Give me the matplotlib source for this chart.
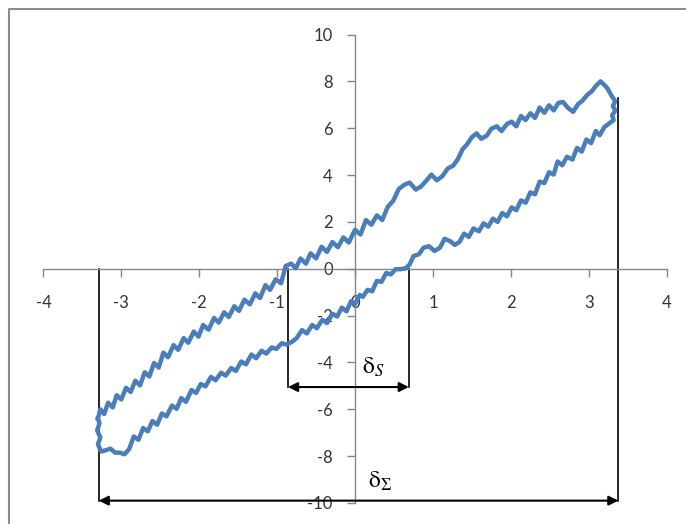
import numpy as np
import matplotlib
matplotlib.use('Agg')
import matplotlib.pyplot as plt
from matplotlib.lines import Line2D

# loop, upper branch (left to right, incl. top-right end)
upper_x = [-3.30, -3.27, -3.22, -3.17, -3.11, -3.06, -3.00, -2.94, -2.88, -2.82,
           -2.76, -2.70, -2.64, -2.58, -2.52, -2.46, -2.40, -2.33, -2.27, -2.20,
           -2.14, -2.07, -2.01, -1.95, -1.88, -1.81, -1.75, -1.68, -1.62, -1.55,
           -1.49, -1.42, -1.35, -1.28, -1.22, -1.15, -1.09, -1.02, -0.95, -0.89,
           -0.82, -0.76, -0.70, -0.63, -0.57, -0.50, -0.43, -0.36, -0.29, -0.22,
           -0.15, -0.08, 0.00, 0.07, 0.14, 0.21, 0.28, 0.35, 0.42, 0.49,
           0.56, 0.63, 0.70, 0.78, 0.85, 0.92, 0.98, 1.05, 1.12, 1.19,
           1.26, 1.32, 1.38, 1.44, 1.50, 1.56, 1.62, 1.69, 1.75, 1.82,
           1.88, 1.95, 2.01, 2.07, 2.13, 2.19, 2.25, 2.31, 2.37, 2.43,
           2.49, 2.55, 2.61, 2.67, 2.73, 2.80, 2.86, 2.92, 2.98, 3.04,
           3.09, 3.15, 3.20, 3.24, 3.29, 3.34, 3.31, 3.34, 3.30, 3.32, 3.26]
upper_y = [-6.40, -6.00, -6.20, -5.72, -5.92, -5.40, -5.58, -5.08, -5.26, -4.78,
           -4.98, -4.42, -4.60, -4.02, -4.22, -3.58, -3.78, -3.26, -3.46, -2.96,
           -3.16, -2.68, -2.90, -2.40, -2.60, -2.10, -2.30, -1.86, -2.06, -1.60,
           -1.80, -1.32, -1.52, -1.05, -1.25, -0.70, -0.90, -0.45, -0.62, 0.12,
           0.22, 0.02, 0.44, 0.22, 0.66, 0.44, 0.94, 0.72, 1.14, 0.92,
           1.34, 1.12, 1.66, 1.46, 2.08, 1.88, 2.28, 2.08, 2.65, 2.90,
           3.40, 3.58, 3.68, 3.38, 3.52, 3.78, 4.02, 3.78, 3.95, 4.28,
           4.40, 4.68, 5.10, 5.32, 5.62, 5.78, 5.55, 5.68, 5.98, 6.08,
           5.88, 6.18, 6.28, 6.08, 6.52, 6.35, 6.64, 6.44, 6.88, 6.66,
           6.98, 6.76, 7.08, 7.12, 6.88, 6.70, 7.02, 7.18, 7.42, 7.58,
           7.80, 8.00, 7.85, 7.70, 7.40, 7.15, 6.95, 6.75, 6.55, 6.35, 6.20]

# loop, lower branch (right to left, back to the start)
lower_x = [3.20, 3.14, 3.09, 3.03, 2.97, 2.91, 2.85, 2.79, 2.72, 2.66,
           2.60, 2.55, 2.49, 2.43, 2.37, 2.31, 2.25, 2.19, 2.13, 2.07,
           2.01, 1.95, 1.89, 1.83, 1.77, 1.71, 1.65, 1.59, 1.52, 1.46,
           1.40, 1.34, 1.28, 1.22, 1.15, 1.09, 1.02, 0.95, 0.88, 0.82,
           0.75, 0.70, 0.65, 0.58, 0.52, 0.46, 0.40, 0.34, 0.28, 0.22,
           0.16, 0.10, 0.06, 0.00, -0.05, -0.11, -0.17, -0.23, -0.29, -0.36,
           -0.42, -0.49, -0.55, -0.62, -0.68, -0.75, -0.81, -0.88, -0.94, -1.01,
           -1.07, -1.14, -1.20, -1.27, -1.33, -1.40, -1.46, -1.53, -1.59, -1.66,
           -1.72, -1.79, -1.85, -1.92, -1.98, -2.04, -2.10, -2.17, -2.23, -2.29,
           -2.35, -2.42, -2.48, -2.54, -2.60, -2.66, -2.72, -2.78, -2.84, -2.90,
           -2.96, -3.02, -3.08, -3.14, -3.20, -3.26, -3.30, -3.27, -3.31, -3.28, -3.30]
lower_y = [6.05, 5.70, 5.88, 5.36, 5.52, 5.00, 5.16, 4.66, 4.78, 4.42,
           4.58, 4.02, 4.12, 3.66, 3.72, 3.18, 3.26, 2.82, 2.92, 2.50,
           2.62, 2.24, 2.38, 2.00, 2.14, 1.80, 1.94, 1.60, 1.72, 1.36,
           1.50, 1.14, 1.02, 1.18, 1.28, 0.90, 0.76, 0.96, 0.90, 0.62,
           0.54, 0.18, 0.02, -0.02, -0.02, -0.24, -0.18, -0.56, -0.52, -0.96,
           -0.90, -1.20, -1.12, -1.50, -1.38, -1.82, -1.66, -2.04, -1.92, -2.32,
           -2.18, -2.54, -2.40, -2.76, -2.62, -2.96, -3.12, -3.24, -3.18, -3.42,
           -3.36, -3.62, -3.50, -3.82, -3.66, -4.08, -3.96, -4.36, -4.24, -4.56,
           -4.44, -4.76, -4.62, -5.02, -4.92, -5.30, -5.18, -5.68, -5.52, -5.98,
           -5.84, -6.30, -6.18, -6.66, -6.50, -6.94, -6.80, -7.30, -7.16, -7.70,
           -7.92, -7.85, -7.85, -7.68, -7.75, -7.80, -7.50, -7.20, -6.90, -6.60, -6.40]

# widths marked under the loop
ds_x = [-0.86, 0.69]
ds_y = -5.05
dsum_x = [-3.29, 3.38]
dsum_y = -9.9
right_top = 7.3

ticks_x = [-4, -3, -2, -1, 0, 1, 2, 3, 4]
ticks_y = [-10, -8, -6, -4, -2, 0, 2, 4, 6, 8, 10]

plt.rcParams['mathtext.fontset'] = 'stix'

fig = plt.figure(figsize=(6.86, 5.24), dpi=100)
ax = fig.add_axes([0.0633, 0.0401, 0.9085, 0.894])

ax.plot(upper_x + lower_x, upper_y + lower_y, color='#4a7ebb', lw=3.2,
        solid_joinstyle='round', zorder=3)

# vertical guides
ax.plot([dsum_x[0], dsum_x[0]], [0, dsum_y], color='black', lw=1.2, zorder=2)
ax.plot([dsum_x[1], dsum_x[1]], [right_top, dsum_y], color='black', lw=1.2, zorder=2)
ax.plot([ds_x[0], ds_x[0]], [0, ds_y], color='black', lw=1.2, zorder=2)
ax.plot([ds_x[1], ds_x[1]], [0, ds_y], color='black', lw=1.2, zorder=2)

arrow = dict(arrowstyle='<|-|>', color='black', lw=1.5, mutation_scale=14,
             shrinkA=0, shrinkB=0)
ax.annotate('', xy=(ds_x[0], ds_y), xytext=(ds_x[1], ds_y), arrowprops=arrow)
ax.annotate('', xy=(dsum_x[0], dsum_y), xytext=(dsum_x[1], dsum_y), arrowprops=arrow)

ax.text(0.09, -4.2, r'$\mathrm{δ}_{S}$', fontsize=17, ha='left', va='center')
ax.text(0.17, -9.05, r'$\mathrm{δ}_{\Sigma}$', fontsize=17, ha='left', va='center')

ax.set_xlim(-4, 4)
ax.set_ylim(-10, 10)
for s in ['top', 'right']:
    ax.spines[s].set_visible(False)
ax.spines['left'].set_position(('data', 0))
ax.spines['bottom'].set_position(('data', 0))
for s in ['left', 'bottom']:
    ax.spines[s].set_color('#868686')
    ax.spines[s].set_linewidth(1.0)
ax.set_xticks(ticks_x)
ax.set_yticks(ticks_y)
ax.set_xticklabels([str(t) for t in ticks_x])
ax.set_yticklabels([str(t) for t in ticks_y])
ax.tick_params(axis='x', direction='out', length=6, width=1, color='#868686',
               pad=13, labelsize=12, labelcolor='#333333')
ax.tick_params(axis='y', direction='out', length=6, width=1, color='#868686',
               pad=10, labelsize=12, labelcolor='#333333')
for lab in ax.get_xticklabels() + ax.get_yticklabels():
    lab.set_family('Lato')
ax.patch.set_alpha(0)

# outer frame (only left and top edges show)
fig.add_artist(Line2D([9 / 686, 9 / 686, 1.0], [0.0, 1 - 9 / 524, 1 - 9 / 524],
                      transform=fig.transFigure, color='#8c8c8c', lw=1.5))

fig.savefig('out.png', dpi=100)
